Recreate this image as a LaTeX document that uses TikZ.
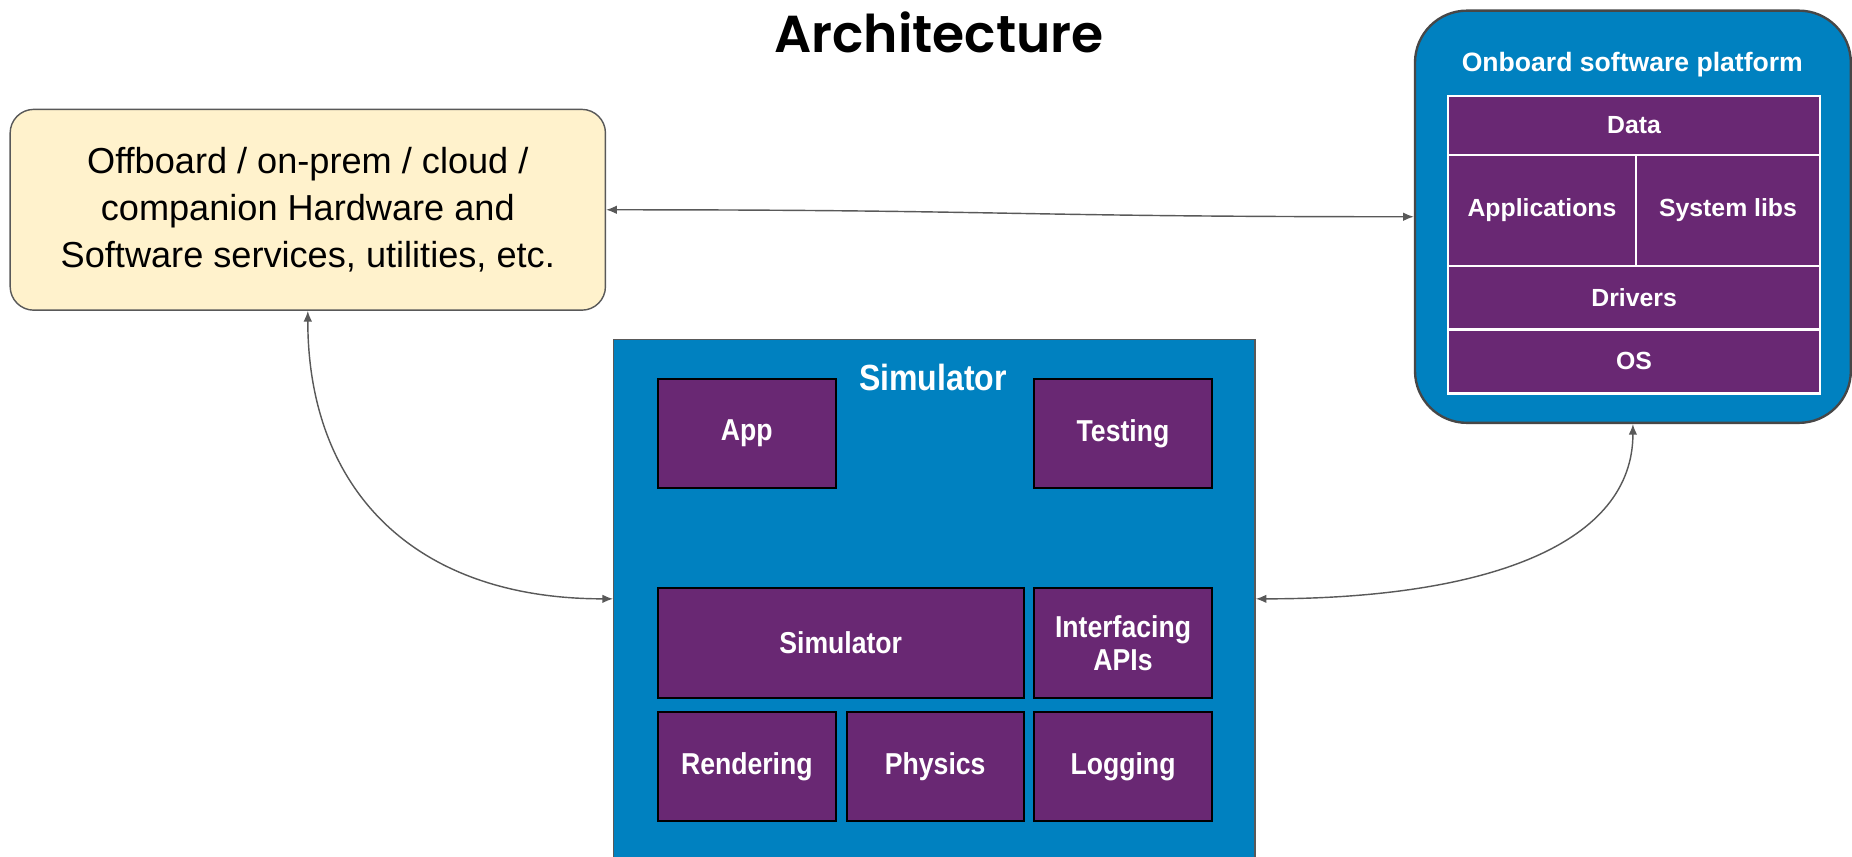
\documentclass[tikz,border=0pt]{standalone}
\usepackage{fontspec}
\setmainfont{Liberation Sans}
\newfontfamily\titlefont{Poppins}[BoldFont={Poppins SemiBold}]
\newfontfamily\narrowfont[FakeStretch=0.88]{Liberation Sans}
\usetikzlibrary{arrows.meta}

\definecolor{cream}{HTML}{FFF2CC}
\definecolor{ocean}{HTML}{0081C0}
\definecolor{plum}{HTML}{692873}
\definecolor{edge}{HTML}{595959}

\tikzset{
  % one unit = half a point, y grows downward
  x=0.5pt, y=-0.5pt,
  box/.style 2 args={anchor=north west, inner sep=0pt,
    minimum width=#1*0.5pt, minimum height=#2*0.5pt},
  stackcell/.style={fill=plum, draw=white, line width=1pt, text=white,
    font=\fontsize{10.5}{13}\selectfont\bfseries},
  simcell/.style={fill=plum, draw=black, line width=0.8pt, text=white, align=center,
    font=\narrowfont\fontsize{12.8}{14}\selectfont\bfseries},
  conn/.style={draw=edge, line width=0.6pt,
    {Latex[length=4.5pt,width=3.6pt]}-{Latex[length=4.5pt,width=3.6pt]}},
}

\begin{document}
\begin{tikzpicture}
\clip (0,0) rectangle (1568,725);
\fill[white] (0,0) rectangle (1568,725);

% heading
\node[font=\titlefont\fontsize{22}{26}\selectfont\bfseries] (title) at (795,27) {Architecture};

% offboard services
\node[box={504}{170}, fill=cream, draw=edge, line width=0.6pt, rounded corners=10pt,
      align=center, font=\fontsize{15.3}{20}\selectfont] (off) at (8,92)
  {Offboard / on-prem / cloud /\\companion Hardware and\\Software services, utilities, etc.};

% onboard software platform
\node[box={369}{349}, fill=ocean, draw=edge!80!black, line width=1pt, rounded corners=22pt] (ob) at (1197,8) {};
\node[text=white, font=\fontsize{11.25}{13}\selectfont\bfseries] (obtitle) at (1382,55) {Onboard software platform};
\node[box={315}{50}, stackcell] (data) at (1225,80) {Data};
\node[box={159}{94}, stackcell] (apps) at (1225,130) {Applications};
\node[box={156}{94}, stackcell] (libs) at (1384,130) {System libs};
\node[box={315}{54}, stackcell] (drivers) at (1225,224) {Drivers};
\node[box={315}{54}, stackcell] (os) at (1225,278) {OS};

% simulator
\node[box={543}{470}, fill=ocean, draw=edge, line width=0.6pt] (sim) at (519,287) {};
\node[text=white, font=\narrowfont\fontsize{15.4}{18}\selectfont\bfseries] (simtitle) at (790,320) {Simulator};
\node[box={151}{92}, simcell] (app) at (556,320) {App};
\node[box={150}{92}, simcell] (testing) at (875,320) {Testing};
\node[box={310}{93}, simcell] (core) at (556,497) {Simulator};
\node[box={150}{93}, simcell] (apis) at (875,497) {Interfacing\\APIs};
\node[box={151}{92}, simcell] (render) at (556,602) {Rendering};
\node[box={150}{92}, simcell] (physics) at (716,602) {Physics};
\node[box={150}{92}, simcell] (logging) at (875,602) {Logging};

% links
\draw[conn] (off.east) .. controls +(340,0) and +(-340,0) .. (ob.west);
\draw[conn] (off.south) .. controls +(0,150) and +(-170,0) .. ([yshift=-110pt]sim.north west);
\draw[conn] ([yshift=-110pt]sim.north east) .. controls +(200,0) and +(0,100) .. (ob.south);
\end{tikzpicture}
\end{document}
